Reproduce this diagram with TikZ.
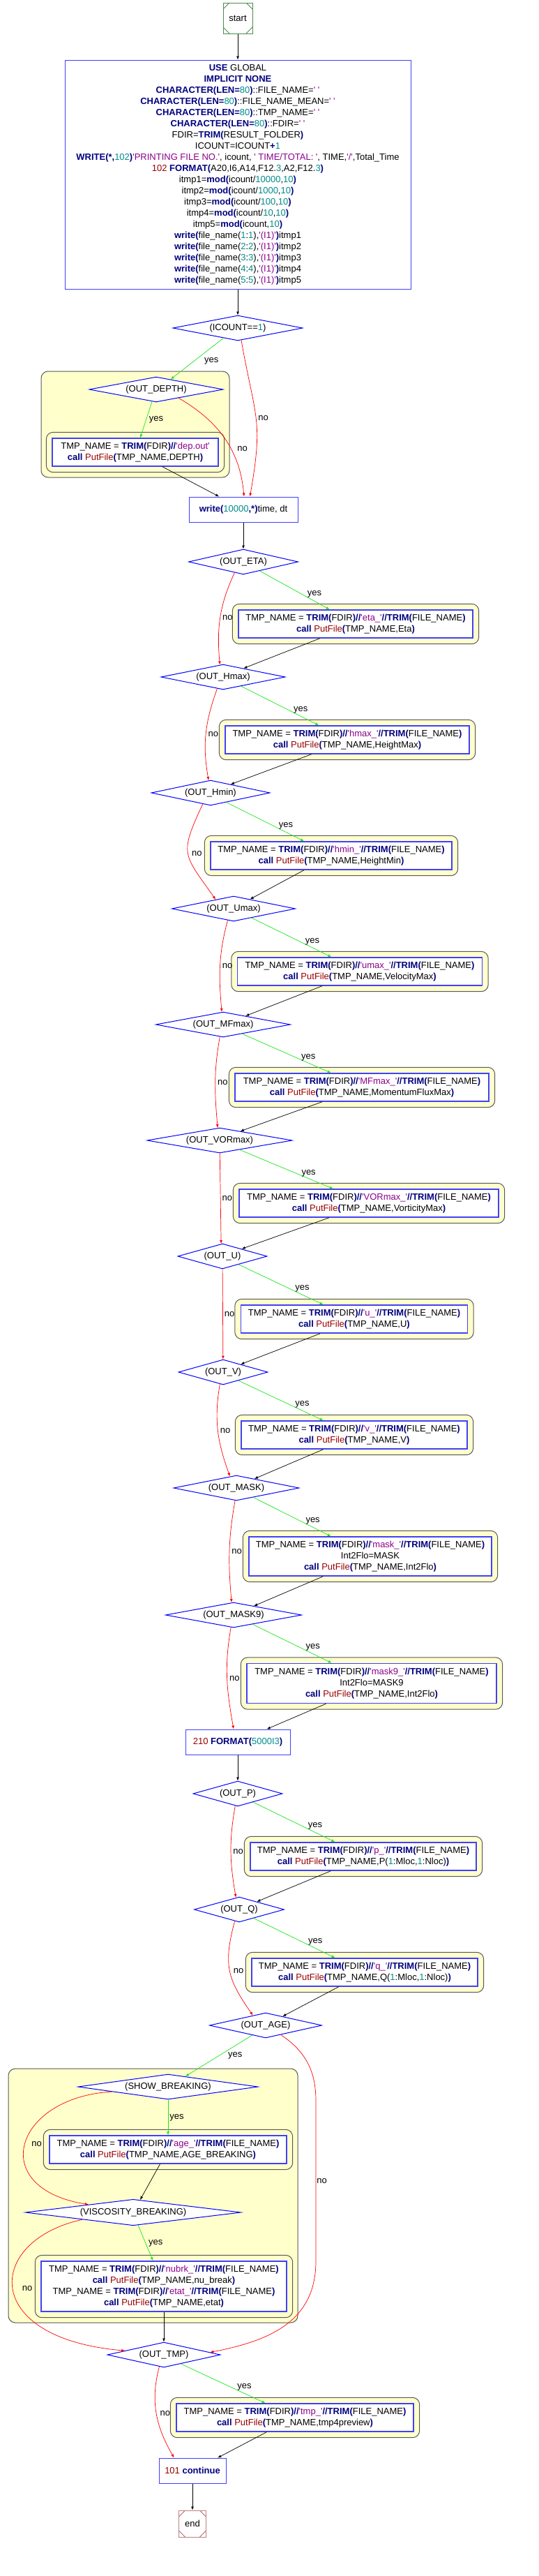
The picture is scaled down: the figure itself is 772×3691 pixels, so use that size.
\documentclass[tikz,border=0pt]{standalone}
\usepackage{fontspec}
\newfontfamily\codefont{Liberation Sans}
\usepackage{tikz}
\usetikzlibrary{arrows.meta, positioning, calc, shapes.geometric, backgrounds}
\definecolor{KeyBlue}{rgb}{0.0, 0.0, 0.5}
\definecolor{NumTeal}{rgb}{0.0, 0.55, 0.55}
\definecolor{StrPurple}{rgb}{0.55, 0.0, 0.55}
\definecolor{FunRed}{rgb}{0.6, 0.0, 0.0}
\definecolor{FrameBlue}{rgb}{0.25, 0.25, 1.0}
\definecolor{NoteYellow}{rgb}{1.0, 1.0, 0.8}
\definecolor{StartGreen}{rgb}{0.3, 0.55, 0.3}
\definecolor{EndRose}{rgb}{0.75, 0.5, 0.5}
\definecolor{YesGreen}{rgb}{0.1, 0.9, 0.1}

\newcommand{\kw}[1]{\textbf{\color{KeyBlue}#1}}
\newcommand{\nr}[1]{{\color{NumTeal}#1}}
\newcommand{\sq}[1]{{\color{StrPurple}#1}}
\newcommand{\pf}[1]{{\color{FunRed}#1}}
\newcommand{\tmpline}[1]{TMP\_NAME = \kw{TRIM(}FDIR\kw{)//}\sq{'#1'}\kw{//TRIM(}FILE\_NAME\kw{)}}
\newcommand{\callline}[1]{\kw{call} \pf{PutFile}\kw{(}TMP\_NAME,#1\kw{)}}

\begin{document}
\begin{tikzpicture}[x=1pt, y=-1pt, >={Latex[length=5pt,width=4pt]}, line width=0.7pt,
    every node/.style={font=\codefont\fontsize{13}{16}\selectfont},
    term/.style={draw, fill=white, minimum width=42pt, minimum height=44pt, inner sep=0pt, line width=1pt,
      path picture={\foreach \c/\dx/\dy in {north west/1/-1, north east/-1/-1, south west/1/1, south east/-1/1}
        \draw ($(path picture bounding box.\c)+(\dx*9pt,0pt)$) -- ($(path picture bounding box.\c)+(0pt,\dy*9pt)$);}},
    test/.style={diamond, aspect=6, draw=blue, fill=white, line width=1pt, inner sep=0pt, minimum height=36pt},
    stmt/.style={draw=FrameBlue, fill=white, line width=1.4pt, align=center, inner sep=0pt, minimum height=40pt},
    proc/.style={draw=FrameBlue, fill=white, line width=1pt, align=center, inner sep=0pt, minimum height=36pt},
    yellowbox/.style={draw=black!65, fill=NoteYellow, line width=1pt, rounded corners=10pt},
    yes/.style={->, YesGreen},
    no/.style={->, red},
    lbl/.style={inner sep=1pt, text=black}]
    \useasboundingbox (0,0) rectangle (772,3691);

    % start and set-up block
    \node [term, draw=StartGreen] (start) at (341,26) {start};
    \node [proc, minimum width=496pt, minimum height=328pt] (init) at (341,250) {%
        \kw{USE} GLOBAL\\
        \kw{IMPLICIT NONE}\\
        \kw{CHARACTER(LEN=}\nr{80}\kw{)}::FILE\_NAME=\sq{' '}\\
        \kw{CHARACTER(LEN=}\nr{80}\kw{)}::FILE\_NAME\_MEAN=\sq{' '}\\
        \kw{CHARACTER(LEN=}\nr{80}\kw{)}::TMP\_NAME=\sq{' '}\\
        \kw{CHARACTER(LEN=}\nr{80}\kw{)}::FDIR=\sq{' '}\\
        FDIR=\kw{TRIM(}RESULT\_FOLDER\kw{)}\\
        ICOUNT=ICOUNT\kw{+}\nr{1}\\
        \kw{WRITE(*,}\nr{102}\kw{)}\sq{'PRINTING FILE NO.'}, icount, \sq{' TIME/TOTAL: '}, TIME,\sq{'/'},Total\_Time\\
        \pf{102} \kw{FORMAT(}A20,I6,A14,F12.\nr{3},A2,F12.\nr{3}\kw{)}\\
        itmp1=\kw{mod(}icount/\nr{10000},\nr{10}\kw{)}\\
        itmp2=\kw{mod(}icount/\nr{1000},\nr{10}\kw{)}\\
        itmp3=\kw{mod(}icount/\nr{100},\nr{10}\kw{)}\\
        itmp4=\kw{mod(}icount/\nr{10},\nr{10}\kw{)}\\
        itmp5=\kw{mod(}icount,\nr{10}\kw{)}\\
        \kw{write(}file\_name(\nr{1}:\nr{1}),\sq{'(I1)'}\kw{)}itmp1\\
        \kw{write(}file\_name(\nr{2}:\nr{2}),\sq{'(I1)'}\kw{)}itmp2\\
        \kw{write(}file\_name(\nr{3}:\nr{3}),\sq{'(I1)'}\kw{)}itmp3\\
        \kw{write(}file\_name(\nr{4}:\nr{4}),\sq{'(I1)'}\kw{)}itmp4\\
        \kw{write(}file\_name(\nr{5}:\nr{5}),\sq{'(I1)'}\kw{)}itmp5};

    % first test and depth output
    \node [test, minimum width=186pt] (icount) at (341,470) {(ICOUNT==\nr{1})};
    \node [test, minimum width=192pt] (depth) at (224,558) {(OUT\_DEPTH)};
    \node [stmt, minimum width=238pt] (depthb) at (194,648) {TMP\_NAME = \kw{TRIM(}FDIR\kw{)//}\sq{'dep.out'}\\ \callline{DEPTH}};
    \node [proc, minimum width=156pt] (write) at (349,730) {\kw{write(}\nr{10000}\kw{,*)}time, dt};

    % output tests
    \node [test, minimum width=157pt] (eta) at (349,805) {(OUT\_ETA)};
    \node [stmt, minimum width=336pt] (etab) at (510,894) {\tmpline{eta\_}\\ \callline{Eta}};
    \node [test, minimum width=178pt] (hmax) at (320,970) {(OUT\_Hmax)};
    \node [stmt, minimum width=350pt] (hmaxb) at (498,1060) {\tmpline{hmax\_}\\ \callline{HeightMax}};
    \node [test, minimum width=170pt] (hmin) at (302,1136) {(OUT\_Hmin)};
    \node [stmt, minimum width=346pt] (hminb) at (475,1226) {\tmpline{hmin\_}\\ \callline{HeightMin}};
    \node [test, minimum width=177pt] (umax) at (335,1302) {(OUT\_Umax)};
    \node [stmt, minimum width=351pt] (umaxb) at (516,1392) {\tmpline{umax\_}\\ \callline{VelocityMax}};
    \node [test, minimum width=193pt] (mfmax) at (320,1468) {(OUT\_MFmax)};
    \node [stmt, minimum width=364pt] (mfmaxb) at (519,1558) {\tmpline{MFmax\_}\\ \callline{MomentumFluxMax}};
    \node [test, minimum width=208pt] (vormax) at (315,1634) {(OUT\_VORmax)};
    \node [stmt, minimum width=372pt] (vormaxb) at (529,1724) {\tmpline{VORmax\_}\\ \callline{VorticityMax}};
    \node [test, minimum width=128pt] (outu) at (319,1800) {(OUT\_U)};
    \node [stmt, minimum width=325pt] (ub) at (508,1890) {\tmpline{u\_}\\ \callline{U}};
    \node [test, minimum width=128pt] (outv) at (320,1966) {(OUT\_V)};
    \node [stmt, minimum width=324pt] (vb) at (508,2056) {\tmpline{v\_}\\ \callline{V}};
    \node [test, minimum width=180pt] (mask) at (339,2132) {(OUT\_MASK)};
    \node [stmt, minimum width=348pt, minimum height=56pt] (maskb) at (531,2230) {\tmpline{mask\_}\\ Int2Flo=MASK\\ \callline{Int2Flo}};
    \node [test, minimum width=195pt] (mask9) at (335,2314) {(OUT\_MASK9)};
    \node [stmt, minimum width=358pt, minimum height=57pt] (mask9b) at (533,2412) {\tmpline{mask9\_}\\ Int2Flo=MASK9\\ \callline{Int2Flo}};
    \node [proc, minimum width=150pt] (fmt) at (341,2496) {\pf{210} \kw{FORMAT(}\nr{5000I3}\kw{)}};
    \node [test, minimum width=128pt] (outp) at (341,2570) {(OUT\_P)};
    \node [stmt, minimum width=324pt] (pb) at (521,2660) {\tmpline{p\_}\\ \callline{P(\nr{1}:Mloc,\nr{1}:Nloc)}};
    \node [test, minimum width=129pt] (outq) at (343,2736) {(OUT\_Q)};
    \node [stmt, minimum width=324pt] (qb) at (523,2826) {\tmpline{q\_}\\ \callline{Q(\nr{1}:Mloc,\nr{1}:Nloc)}};

    % breaking block
    \node [test, minimum width=161pt] (age) at (381,2902) {(OUT\_AGE)};
    \node [test, minimum width=258pt] (show) at (241,2990) {(SHOW\_BREAKING)};
    \node [stmt, minimum width=340pt] (ageb) at (241,3080) {\tmpline{age\_}\\ \callline{AGE\_BREAKING}};
    \node [test, minimum width=309pt] (visc) at (191,3170) {(VISCOSITY\_BREAKING)};
    \node [stmt, minimum width=352pt, minimum height=72pt] (nub) at (235,3276) {\tmpline{nubrk\_}\\ \callline{nu\_break}\\ \tmpline{etat\_}\\ \callline{etat}};

    % tmp output and end
    \node [test, minimum width=162pt] (tmp) at (235,3374) {(OUT\_TMP)};
    \node [stmt, minimum width=340pt] (tmpb) at (423,3464) {\tmpline{tmp\_}\\ \callline{tmp4preview}};
    \node [proc, minimum width=96pt] (cont) at (276,3540) {\pf{101} \kw{continue}};
    \node [term, draw=EndRose, minimum width=39pt, minimum height=38pt] (end) at (276,3616) {end};

    % yellow clusters behind the statements
    \begin{scope}[on background layer]
        \draw [yellowbox] (59,532) rectangle (329,684);
        \draw [yellowbox] (12,2964) rectangle (427,3328);
        \foreach \b in {depthb, etab, hmaxb, hminb, umaxb, mfmaxb, vormaxb, ub, vb, maskb, mask9b, pb, qb, ageb, nub, tmpb}
            \draw [yellowbox] ($(\b.north west)+(-8,-8)$) rectangle ($(\b.south east)+(8,8)$);
    \end{scope}

    % set-up arrows
    \draw [->] (start) -- (init);
    \draw [->] (init) -- (icount);
    \draw [yes] (icount.215) -- node[lbl, pos=.55, right=13pt] {yes} (depth.35);
    \draw [no] (icount.-74) to[out=-80, in=80, looseness=1.3] node[lbl, pos=.5, right=2pt] {no} (write.63);
    \draw [yes] (depth.-109) -- node[lbl, pos=.5, right=3pt] {yes} (depthb.71);
    \draw [no] (depth.-21) to[out=-30, in=95] node[lbl, pos=.6, right=8pt] {no} (write.87);
    \draw [->] (depthb.-28) -- (write.152);
    \draw [->] (write) -- (eta);

    % yes branches
    \draw [yes] (eta.-29) -- node[lbl, pos=.6, right=7pt] {yes} (etab.151);
    \draw [yes] (hmax.-27) -- node[lbl, pos=.6, right=7pt] {yes} (hmaxb.153);
    \draw [yes] (hmin.-31) -- node[lbl, pos=.6, right=7pt] {yes} (hminb.152);
    \draw [yes] (umax.-27) -- node[lbl, pos=.6, right=7pt] {yes} (umaxb.153);
    \draw [yes] (mfmax.-26) -- node[lbl, pos=.6, right=7pt] {yes} (mfmaxb.155);
    \draw [yes] (vormax.-25) -- node[lbl, pos=.6, right=7pt] {yes} (vormaxb.158);
    \draw [yes] (outu.-27) -- node[lbl, pos=.6, right=7pt] {yes} (ub.155);
    \draw [yes] (outv.-29) -- node[lbl, pos=.6, right=7pt] {yes} (vb.155);
    \draw [yes] (mask.-29) -- node[lbl, pos=.6, right=7pt] {yes} (maskb.153);
    \draw [yes] (mask9.-26) -- node[lbl, pos=.6, right=7pt] {yes} (mask9b.153);
    \draw [yes] (outp.-29) -- node[lbl, pos=.6, right=7pt] {yes} (pb.153);
    \draw [yes] (outq.-31) -- node[lbl, pos=.6, right=7pt] {yes} (qb.154);
    \draw [yes] (tmp.-28) -- node[lbl, pos=.6, right=7pt] {yes} (tmpb.154);

    % no branches
    \draw [no] (eta.-129) to[out=-115, in=95] node[lbl, pos=.5, right=2pt] {no} (hmax.105);
    \draw [no] (hmax.-117) to[out=-110, in=100] node[lbl, pos=.5, right=2pt] {no} (hmin.99);
    \draw [no] (hmin.-125) to[out=-115, in=125, looseness=1.5] node[lbl, pos=.5, right=4pt] {no} (umax.153);
    \draw [no] (umax.-117) to[out=-105, in=95] node[lbl, pos=.5, right=2pt] {no} (mfmax.96);
    \draw [no] (mfmax.-105) to[out=-100, in=95] node[lbl, pos=.5, right=2pt] {no} (vormax.99);
    \draw [no] (vormax) -- node[lbl, pos=.5, right=1pt] {no} (outu.96);
    \draw [no] (outu) -- node[lbl, pos=.5, right=1pt] {no} (outv);
    \draw [no] (outv.-105) to[out=-100, in=110] node[lbl, pos=.5, right=2pt] {no} (mask.119);
    \draw [no] (mask.-96) to[out=-100, in=95] node[lbl, pos=.5, right=2pt] {no} (mask9.99);
    \draw [no] (mask9.-102) to[out=-100, in=100] node[lbl, pos=.5, right=2pt] {no} (fmt.108);
    \draw [no] (outp.-102) to[out=-100, in=100] node[lbl, pos=.5, right=2pt] {no} (outq.105);
    \draw [no] (outq.-111) to[out=-105, in=125, looseness=1.2] node[lbl, pos=.5, right=4pt] {no} (age.142);
    \draw [no] (tmp.-111) to[out=-105, in=120] node[lbl, pos=.5, right=4pt] {no} (cont.145);

    % back to the main line
    \draw [->] (etab.-158) -- (hmax.23);
    \draw [->] (hmaxb.-158) -- (hmin.23);
    \draw [->] (hminb.-152) -- (umax.30);
    \draw [->] (umaxb.-159) -- (mfmax.21);
    \draw [->] (mfmaxb.-160) -- (vormax.24);
    \draw [->] (vormaxb.-160) -- (outu.21);
    \draw [->] (ub.-157) -- (outv.24);
    \draw [->] (vb.-155) -- (mask.27);
    \draw [->] (maskb.-157) -- (mask9.24);
    \draw [->] (mask9b.-156) -- (fmt.24);
    \draw [->] (fmt) -- (outp);
    \draw [->] (pb.-156) -- (outq.24);
    \draw [->] (qb.-151) -- (age.28);

    % breaking block arrows
    \draw [yes] (age.-144) -- node[lbl, pos=.5, right=12pt] {yes} (show.31);
    \draw [yes] (show) -- node[lbl, pos=.5, right=1pt] {yes} (ageb);
    \draw [no] (show.-175) .. controls (20,3005) and (-20,3135) .. (visc.170) node[lbl, pos=.5, right=8pt] {no};
    \draw [->] (ageb.-119) -- (visc.61);
    \draw [yes] (visc.-69) -- node[lbl, pos=.5, right=3pt] {yes} (nub.113);
    \draw [no] (visc.-172) .. controls (-20,3210) and (-30,3350) .. (tmp.174) node[lbl, pos=.5, right=12pt] {no};
    \draw [no] (age.-32) .. controls (440,2940) and (453,2970) .. (453,3010) -- (453,3240) node[lbl, pos=.5, right=0pt] {no} .. controls (453,3330) and (380,3355) .. (tmp.3);
    \draw [->] (nub) -- (tmp);
    \draw [->] (tmpb.-153) -- (cont.27);
    \draw [->] (cont) -- (end);
\end{tikzpicture}
\end{document}
